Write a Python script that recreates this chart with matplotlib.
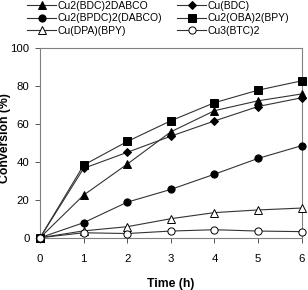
import matplotlib
matplotlib.use("Agg")
import matplotlib.pyplot as plt

plt.rcParams['font.family'] = ['Liberation Sans', 'DejaVu Sans']

time_h = [0, 1, 2, 3, 4, 5, 6]
bdc2dabco = [0, 22.4, 38.7, 55.7, 66.8, 72.0, 75.6]
bpdc2dabco = [0, 7.9, 18.7, 25.4, 33.4, 41.7, 48.4]
dpa_bpy = [0, 3.6, 5.8, 10.0, 13.2, 14.6, 15.6]
cu_bdc = [0, 36.5, 44.9, 53.4, 61.4, 69.0, 73.6]
oba2bpy = [0, 38.2, 50.6, 61.5, 71.0, 77.6, 82.5]
btc2 = [0, 2.6, 2.2, 3.5, 4.2, 3.5, 3.2]

labels = ["Cu2(BDC)2DABCO", "Cu2(BPDC)2(DABCO)", "Cu(DPA)(BPY)",
          "Cu(BDC)", "Cu2(OBA)2(BPY)", "Cu3(BTC)2"]
xticks = [0, 1, 2, 3, 4, 5, 6]
yticks = [0, 20, 40, 60, 80, 100]

fig = plt.figure(figsize=(3.08, 2.90), dpi=100)
ax = fig.add_axes([0.13, 0.1803, 0.8495, 0.6557])

series = [
    (bdc2dabco, '^', 'black'),
    (bpdc2dabco, 'o', 'black'),
    (dpa_bpy, '^', 'white'),
    (cu_bdc, 'D', 'black'),
    (oba2bpy, 's', 'black'),
    (btc2, 'o', 'white'),
]
handles = []
for (vals, m, fc), lab in zip(series, labels):
    ms = 5.2 if m != 'D' else 4.2
    h, = ax.plot(time_h, vals, marker=m, markersize=ms, markerfacecolor=fc,
                 markeredgecolor='black', markeredgewidth=0.7,
                 color='#333333', linewidth=0.8, label=lab, clip_on=False, zorder=3)
    handles.append(h)

ax.set_xlim(0, 6)
ax.set_ylim(0, 100)
ax.set_xticks(xticks)
ax.set_yticks(yticks)
ax.tick_params(direction='out', length=3.5, width=0.7, color='#555555',
               labelsize=8.2)
ax.tick_params(axis='x', pad=8)
ax.tick_params(axis='y', pad=4)
for s in ax.spines.values():
    s.set_color('#808080')
    s.set_linewidth(0.8)

ax.set_xlabel("Time (h)", fontsize=8.8, fontweight='bold', labelpad=10)
ax.set_ylabel("Conversion (%)", fontsize=8.8, fontweight='bold')
ax.yaxis.set_label_coords(-0.112, 0.525)

fig.legend(handles=handles, labels=labels, ncol=2, loc='upper left',
           bbox_to_anchor=(0.075, 1.012), frameon=False, fontsize=7.5,
           handlelength=2.8, handletextpad=0.1, columnspacing=1.45,
           labelspacing=0.25, borderaxespad=0.0)

fig.savefig("out.png", dpi=100)
